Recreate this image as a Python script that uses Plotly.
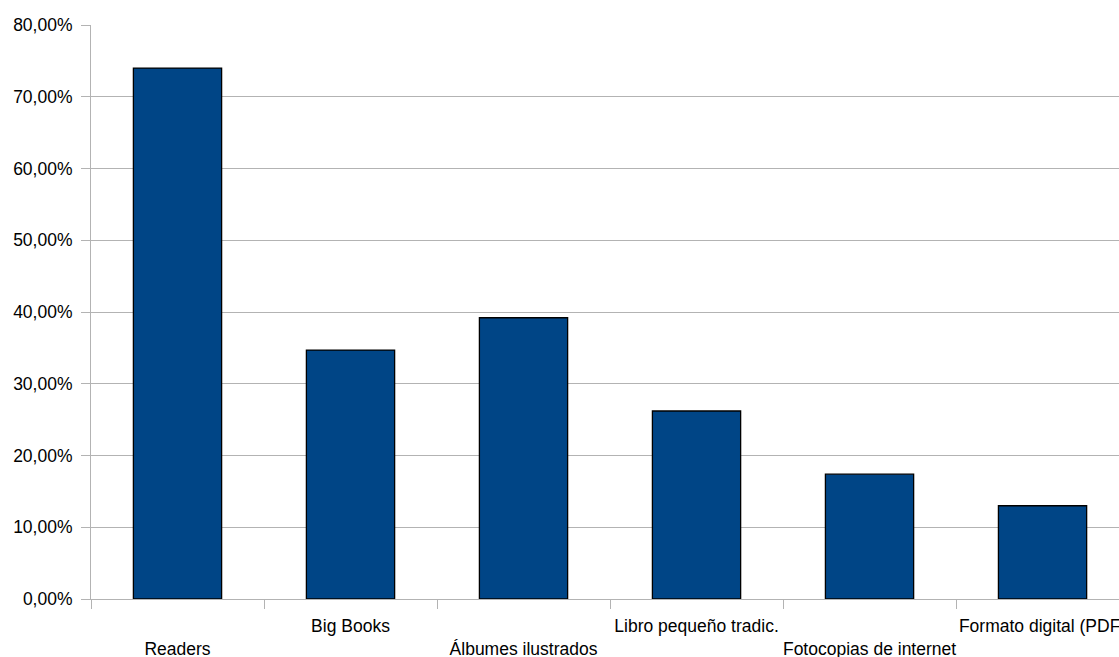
import plotly.graph_objects as go

# Survey results: share of respondents using each reading material
categories = ["Readers", "Big Books", "Álbumes ilustrados",
              "Libro pequeño tradic.", "Fotocopias de internet",
              "Formato digital (PDF)"]
values = [74.0, 34.7, 39.2, 26.2, 17.4, 13.0]

y_ticks = [0, 10, 20, 30, 40, 50, 60, 70, 80]
y_tick_labels = ["0,00%", "10,00%", "20,00%", "30,00%", "40,00%",
                 "50,00%", "60,00%", "70,00%", "80,00%"]

# Alternate labels drop to a second row so long names don't collide
x_tick_labels = [("<br>" + c) if i % 2 == 0 else c
                 for i, c in enumerate(categories)]

grid = "#b3b3b3"
font = dict(family="Liberation Sans, Arial, sans-serif", size=17.5, color="#000000")

fig = go.Figure(
    go.Bar(
        x=categories,
        y=values,
        marker=dict(color="#004586", line=dict(color="#000000", width=1.3)),
        hoverinfo="x+y",
    )
)

fig.update_layout(
    width=1119,
    height=657,
    margin=dict(l=91, r=0, t=25, b=58),
    paper_bgcolor="#ffffff",
    plot_bgcolor="#ffffff",
    bargap=0.49,
    showlegend=False,
    font=font,
)

fig.update_xaxes(
    type="category",
    range=[-0.5, 5.442],
    tickmode="array",
    tickvals=categories,
    ticktext=x_tick_labels,
    tickangle=0,
    tickson="boundaries",
    ticks="outside",
    ticklen=9,
    tickcolor=grid,
    tickwidth=1,
    ticklabelstandoff=11,
    showline=True,
    linecolor=grid,
    linewidth=1,
    showgrid=False,
    zeroline=False,
    tickfont=font,
    automargin=False,
)

fig.update_yaxes(
    range=[0, 80],
    tickmode="array",
    tickvals=y_ticks,
    ticktext=y_tick_labels,
    ticks="outside",
    ticklen=9,
    tickcolor=grid,
    tickwidth=1,
    ticklabelstandoff=5,
    showline=True,
    linecolor=grid,
    linewidth=1,
    showgrid=True,
    gridcolor=grid,
    gridwidth=1,
    zeroline=False,
    tickfont=font,
    automargin=False,
)

fig.write_html("out.html")
